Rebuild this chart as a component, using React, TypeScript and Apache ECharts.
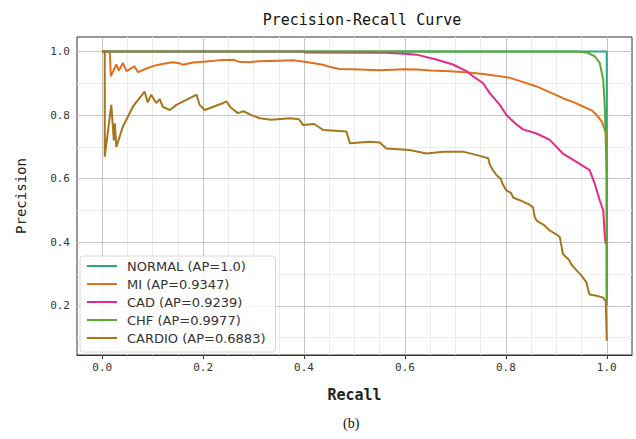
import React, { useEffect, useRef } from "react";
import * as echarts from "echarts";

const seriesNames = [
  "NORMAL (AP=1.0)",
  "MI (AP=0.9347)",
  "CAD (AP=0.9239)",
  "CHF (AP=0.9977)",
  "CARDIO (AP=0.6883)",
];
const seriesColors = ["#2aa58a", "#e0701e", "#e7298a", "#5aa82e", "#a6761d"];

const normalRecall = [0, 1.0, 1.0];
const normalPrecision = [1.0, 1.0, 0.2];

const miRecall = [
  0, 0.015, 0.017, 0.028, 0.033, 0.041, 0.048, 0.064, 0.071, 0.09, 0.107, 0.125, 0.14, 0.155, 0.16,
  0.18, 0.2, 0.23, 0.26, 0.27, 0.29, 0.31, 0.35, 0.38, 0.4, 0.42, 0.437, 0.45, 0.47, 0.51, 0.55,
  0.6, 0.623, 0.65, 0.689, 0.72, 0.755, 0.78, 0.808, 0.83, 0.861, 0.89, 0.913, 0.935, 0.953, 0.97,
  0.98, 0.99, 0.996, 1.0, 1.0,
];
const miPrecision = [
  1.0, 1.0, 0.922, 0.959, 0.94, 0.964, 0.938, 0.953, 0.935, 0.948, 0.957, 0.962, 0.966, 0.962, 0.958,
  0.965, 0.968, 0.972, 0.974, 0.968, 0.966, 0.969, 0.971, 0.972, 0.968, 0.963, 0.958, 0.952, 0.945,
  0.943, 0.941, 0.944, 0.943, 0.94, 0.938, 0.935, 0.929, 0.924, 0.917, 0.906, 0.89, 0.87, 0.853,
  0.84, 0.827, 0.815, 0.8, 0.78, 0.753, 0.74, 0.25,
];

const cadRecall = [
  0, 0.4, 0.4, 0.56, 0.6, 0.623, 0.662, 0.695, 0.722, 0.735, 0.755, 0.768, 0.788, 0.801, 0.82,
  0.834, 0.861, 0.887, 0.913, 0.94, 0.966, 0.976, 0.986, 0.993, 0.996, 0.998,
];
const cadPrecision = [
  1.0, 1.0, 0.997, 0.996, 0.993, 0.99, 0.975, 0.959, 0.938, 0.922, 0.9, 0.869, 0.832, 0.8, 0.772,
  0.755, 0.742, 0.722, 0.679, 0.653, 0.627, 0.585, 0.532, 0.5, 0.42, 0.395,
];

const chfRecall = [0, 0.94, 0.96, 0.976, 0.986, 0.993, 0.996, 0.998, 1.0, 1.0];
const chfPrecision = [1.0, 1.0, 0.997, 0.985, 0.964, 0.911, 0.827, 0.72, 0.6, 0.22];

const cardioRecall = [
  0, 0.005, 0.005, 0.018, 0.023, 0.025, 0.028, 0.041, 0.061, 0.084, 0.09, 0.097, 0.107, 0.114,
  0.12, 0.134, 0.147, 0.187, 0.193, 0.203, 0.24, 0.246, 0.255, 0.269, 0.28, 0.296, 0.312, 0.335,
  0.372, 0.39, 0.398, 0.42, 0.438, 0.484, 0.491, 0.53, 0.55, 0.563, 0.609, 0.643, 0.676, 0.715,
  0.743, 0.765, 0.768, 0.775, 0.782, 0.79, 0.793, 0.801, 0.81, 0.815, 0.828, 0.845, 0.854, 0.857,
  0.861, 0.875, 0.887, 0.9, 0.907, 0.91, 0.913, 0.925, 0.93, 0.941, 0.95, 0.96, 0.963, 0.966,
  0.98, 0.993, 0.998, 1.0,
];
const cardioPrecision = [
  1.0, 1.0, 0.669, 0.832, 0.72, 0.774, 0.7, 0.764, 0.827, 0.874, 0.84, 0.864, 0.838, 0.85, 0.826,
  0.816, 0.832, 0.864, 0.832, 0.816, 0.838, 0.843, 0.823, 0.806, 0.812, 0.8, 0.79, 0.785, 0.79,
  0.787, 0.769, 0.772, 0.753, 0.748, 0.711, 0.716, 0.714, 0.695, 0.69, 0.679, 0.685, 0.685, 0.674,
  0.664, 0.645, 0.625, 0.61, 0.6, 0.585, 0.563, 0.555, 0.54, 0.532, 0.52, 0.51, 0.48,
  0.468, 0.455, 0.437, 0.425, 0.416, 0.39, 0.363, 0.345, 0.33, 0.31, 0.295, 0.273, 0.25, 0.236,
  0.232, 0.226, 0.215, 0.09,
];

const xTicks = [0, 0.2, 0.4, 0.6, 0.8, 1.0];
const yTicks = [0.2, 0.4, 0.6, 0.8, 1.0];
const xMinorTicks = [0.05, 0.1, 0.15, 0.25, 0.3, 0.35, 0.45, 0.5, 0.55, 0.65, 0.7, 0.75, 0.85, 0.9, 0.95];
const yMinorTicks = [0.1, 0.3, 0.5, 0.7, 0.9];

const recallSets = [normalRecall, miRecall, cadRecall, chfRecall, cardioRecall];
const precisionSets = [normalPrecision, miPrecision, cadPrecision, chfPrecision, cardioPrecision];

const MONO = "'DejaVu Sans Mono', monospace";

export default function App() {
  const ref = useRef<HTMLDivElement>(null);
  useEffect(() => {
    if (!ref.current) return;
    const chart = echarts.init(ref.current, undefined, { renderer: "svg" });
    const majorStyle = { color: "#c4c4c4", width: 1, type: "solid" };
    const minorStyle = { color: "#ececec", width: 1, type: "solid" };
    const gridLines = [
      ...xMinorTicks.map((v) => ({ xAxis: v, lineStyle: minorStyle })),
      ...yMinorTicks.map((v) => ({ yAxis: v, lineStyle: minorStyle })),
      ...xTicks.map((v) => ({ xAxis: v, lineStyle: majorStyle })),
      ...yTicks.map((v) => ({ yAxis: v, lineStyle: majorStyle })),
    ];
    const curves = seriesNames.map((name, i) => ({
      name,
      type: "line",
      data: recallSets[i].map((r, k) => [r, precisionSets[i][k]]),
      showSymbol: false,
      symbol: "none",
      lineStyle: { color: seriesColors[i], width: 2 },
      itemStyle: { color: seriesColors[i] },
      z: 3,
    }));
    chart.setOption({
      animation: false,
      backgroundColor: "#ffffff",
      title: {
        text: "Precision-Recall Curve",
        left: 357,
        top: 7,
        textAlign: "center",
        textStyle: { fontFamily: MONO, fontSize: 15, fontWeight: "normal", color: "#111" },
      },
      grid: {
        left: 77,
        top: 37,
        width: 555,
        height: 318,
        show: true,
        borderColor: "#333",
        borderWidth: 1,
        backgroundColor: "transparent",
      },
      legend: {
        orient: "vertical",
        left: 80,
        top: 256,
        icon: "rect",
        itemWidth: 30,
        itemHeight: 2,
        itemGap: 4,
        padding: [3, 10, 7, 7],
        backgroundColor: "rgba(255,255,255,0.85)",
        borderColor: "#d6d6d6",
        borderWidth: 1,
        borderRadius: 3,
        textStyle: {
          fontFamily: "'DejaVu Sans', sans-serif",
          fontSize: 13,
          color: "#333",
          lineHeight: 14,
          padding: [0, 0, 0, 5],
        },
        data: seriesNames,
      },
      xAxis: {
        type: "value",
        min: -0.05,
        max: 1.05,
        name: "Recall",
        nameLocation: "middle",
        nameGap: 32,
        nameTextStyle: { fontFamily: MONO, fontSize: 15, fontWeight: "bold", color: "#222" },
        axisLine: { show: true, lineStyle: { color: "#333" } },
        axisTick: { show: true, length: 4, lineStyle: { color: "#333" }, customValues: xTicks },
        axisLabel: {
          customValues: xTicks,
          formatter: (v: number) => v.toFixed(1),
          fontFamily: MONO,
          fontSize: 11,
          color: "#333",
          margin: 7,
        },
        splitLine: { show: false },
      },
      yAxis: {
        type: "value",
        min: 0.0455,
        max: 1.0455,
        name: "Precision",
        nameLocation: "middle",
        nameGap: 49,
        nameTextStyle: { fontFamily: MONO, fontSize: 14, color: "#222" },
        axisLine: { show: true, lineStyle: { color: "#333" } },
        axisTick: { show: true, length: 4, lineStyle: { color: "#333" }, customValues: yTicks },
        axisLabel: {
          customValues: yTicks,
          formatter: (v: number) => v.toFixed(1),
          fontFamily: MONO,
          fontSize: 11,
          color: "#333",
          margin: 7,
        },
        splitLine: { show: false },
      },
      graphic: [
        {
          type: "text",
          left: 343,
          top: 416,
          style: {
            text: "(b)",
            font: "14px 'Liberation Serif', serif",
            fill: "#111",
          },
        },
      ],
      series: [
        {
          name: "grid",
          type: "line",
          data: [],
          silent: true,
          z: 1,
          markLine: {
            silent: true,
            symbol: "none",
            label: { show: false },
            z: 1,
            data: gridLines,
          },
        },
        ...curves,
      ],
    });
    return () => chart.dispose();
  }, []);
  return (
    <div
      ref={ref}
      style={{ position: "absolute", left: 0, top: 0, width: 636, height: 439, background: "#fff" }}
    />
  );
}
